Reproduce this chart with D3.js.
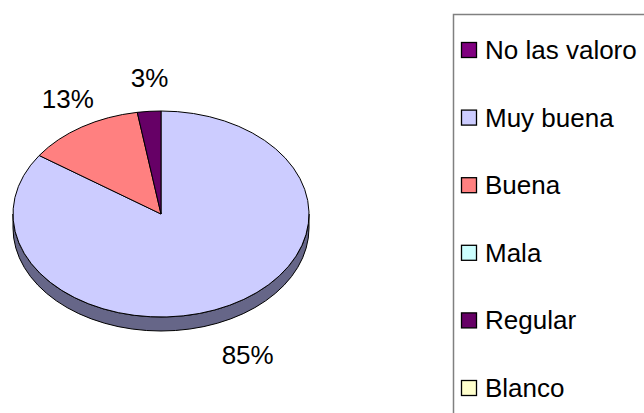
<!DOCTYPE html>
<html>
<head>
<meta charset="utf-8">
<script src="https://cdn.jsdelivr.net/npm/d3@7"></script>
<style>
  html, body { margin: 0; padding: 0; background: #fff; }
  svg { display: block; font-family: "Liberation Sans", Arial, sans-serif; }
</style>
</head>
<body>
<svg id="chart" width="644" height="413"></svg>
<script>
// Survey answers (counts) in legend order
const categories = ["No las valoro", "Muy buena", "Buena", "Mala", "Regular", "Blanco"];
const counts     = [0, 33, 5, 0, 1, 0];
const colors     = ["#800080", "#CCCCFF", "#FF8080", "#CCFFFF", "#660066", "#FFFFCC"];
const sideColors = ["#400040", "#666688", "#804040", "#668080", "#330033", "#808066"];

const cx = 161, cy = 214, rx = 148, ry = 103, depth = 14;
const fontSize = 26;

const svg = d3.select("#chart");
const total = d3.sum(counts);

const data = categories.map((c, i) => ({ name: c, value: counts[i], color: colors[i], side: sideColors[i] }));

// Angles run clockwise from 12 o'clock
const pie = d3.pie().sort(null).value(d => d.value).startAngle(0).endAngle(2 * Math.PI);
const arcs = pie(data).filter(a => a.data.value > 0);

const topPt = a => [cx + rx * Math.sin(a), cy - ry * Math.cos(a)];
const botPt = a => { const p = topPt(a); return [p[0], p[1] + depth]; };

// Side wall: only the front half (angles PI/2 .. 3PI/2) is visible
const sideG = svg.append("g");
arcs.forEach(a => {
  const s = Math.max(a.startAngle, Math.PI / 2);
  const e = Math.min(a.endAngle, 3 * Math.PI / 2);
  if (e <= s) return;
  const p0 = topPt(s), p1 = topPt(e), q1 = botPt(e), q0 = botPt(s);
  const p = `M${p0[0]},${p0[1]} A${rx},${ry} 0 0 1 ${p1[0]},${p1[1]} L${q1[0]},${q1[1]} A${rx},${ry} 0 0 0 ${q0[0]},${q0[1]} Z`;
  sideG.append("path").attr("d", p).attr("fill", a.data.side)
    .attr("stroke", "#000").attr("stroke-width", 1).attr("stroke-linejoin", "round");
});

// Top face wedges
const topG = svg.append("g");
arcs.forEach(a => {
  const p0 = topPt(a.startAngle), p1 = topPt(a.endAngle);
  const large = (a.endAngle - a.startAngle) > Math.PI ? 1 : 0;
  const p = `M${cx},${cy} L${p0[0]},${p0[1]} A${rx},${ry} 0 ${large} 1 ${p1[0]},${p1[1]} Z`;
  topG.append("path").attr("d", p).attr("fill", a.data.color)
    .attr("stroke", "#000").attr("stroke-width", 1).attr("stroke-linejoin", "round");
});

// Percentage labels outside each wedge
const kx = 32, ky = 33;
const fmt = v => Math.round(v / total * 100) + "%";
arcs.forEach(a => {
  const m = (a.startAngle + a.endAngle) / 2;
  const x = cx + (rx + kx) * Math.sin(m) + 3;
  let y = cy - (ry + ky) * Math.cos(m);
  if (Math.cos(m) < 0) y += depth + 7;
  svg.append("text").attr("x", x).attr("y", y)
    .attr("text-anchor", "middle").attr("dominant-baseline", "central")
    .attr("font-size", fontSize).attr("fill", "#000")
    .text(fmt(a.data.value));
});

// Legend
const legend = svg.append("g");
legend.append("rect").attr("x", 453.5).attr("y", 14.5).attr("width", 300).attr("height", 500)
  .attr("fill", "#fff").attr("stroke", "#808080").attr("stroke-width", 1.5);

const ly = d3.scalePoint().domain(categories).range([50, 388]);
categories.forEach((c, i) => {
  const y = ly(c);
  legend.append("rect").attr("x", 461.5).attr("y", y - 7.5).attr("width", 15).attr("height", 15)
    .attr("fill", colors[i]).attr("stroke", "#000").attr("stroke-width", 1.3);
  legend.append("text").attr("x", 485).attr("y", y).attr("dominant-baseline", "central")
    .attr("font-size", fontSize).attr("fill", "#000").text(c);
});
</script>
</body>
</html>
